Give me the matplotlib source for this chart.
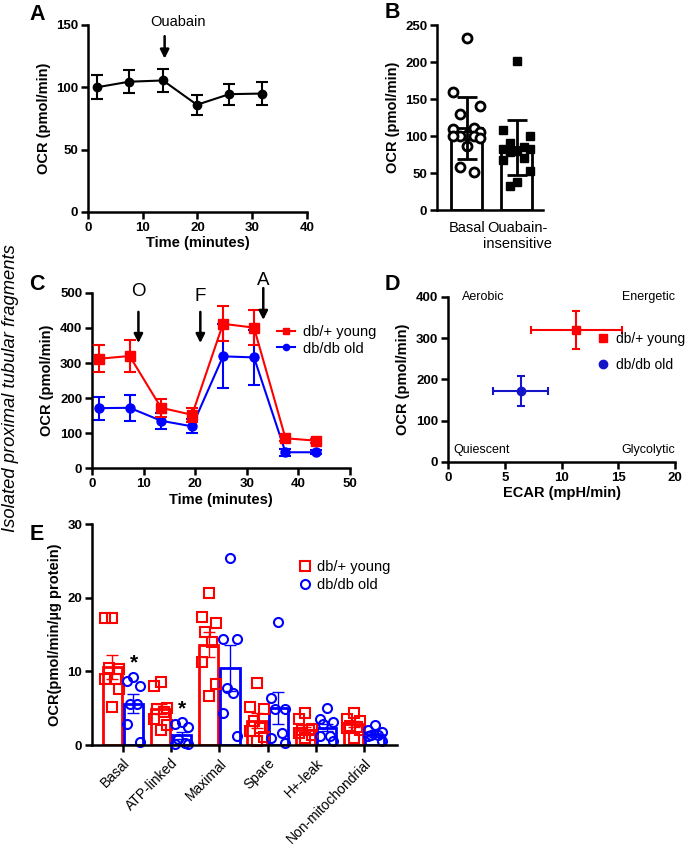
import matplotlib
matplotlib.use('Agg')
import matplotlib.pyplot as plt
from matplotlib.lines import Line2D
import numpy as np

plt.rcParams['font.family'] = ['Liberation Sans', 'DejaVu Sans']

# ---------------- data ----------------
# Panel A
tA = [1.6, 7.5, 13.7, 19.9, 25.8, 31.7]
ocrA = [100, 104.5, 105.5, 86, 94.5, 95]
errA = [9.5, 9, 9, 8, 8.5, 9]

# Panel B
catB = ['Basal', 'Ouabain-\ninsensitive']
meanB = [111, 85]
sdB = [42, 37]
ptsB_basal = [233, 160, 140, 130, 111, 110, 105, 102, 100, 100, 100, 98, 87, 58, 51]
ptsB_ouab = [201, 108, 100, 90, 85, 83, 82, 80, 78, 70, 68, 53, 38, 33]

# Panel C
tC = [1.3, 7.3, 13.4, 19.4, 25.4, 31.4, 37.5, 43.5]
young_C = [312, 320, 172, 152, 412, 401, 85, 78]
young_Cerr = [38, 45, 25, 20, 50, 51, 8, 6]
old_C = [171, 172, 135, 119, 319, 316, 45, 45]
old_Cerr = [33, 37, 23, 20, 91, 79, 10, 6]
injections = ['O', 'F', 'A']
inj_t = [9.0, 21.0, 33.2]

# Panel D
ecar = [11.3, 6.4]
ecar_err = [4.0, 2.4]
ocrD = [320, 172]
ocrD_err = [46, 37]

# Panel E
catE = ['Basal', 'ATP-linked', 'Maximal', 'Spare', 'H+-leak', 'Non-mitochondrial']
young_E = [10.6, 4.9, 13.6, 3.3, 2.1, 2.8]
young_Esem = [1.6, 0.7, 1.7, 1.0, 0.4, 0.4]
old_E = [5.6, 1.3, 10.5, 5.0, 2.35, 1.4]
old_Esem = [1.3, 0.5, 3.1, 2.2, 0.5, 0.3]
young_Epts = [
    [17.3, 17.3, 10.3, 10.5, 9.0, 9.0, 7.6, 5.1],
    [8.5, 8.0, 5.0, 4.9, 4.5, 3.6, 2.7, 2.1],
    [20.6, 17.4, 16.5, 15.3, 14.0, 11.3, 8.3, 6.7],
    [8.4, 5.2, 4.9, 3.3, 2.3, 1.9, 1.1, 0.5],
    [4.3, 3.5, 2.2, 2.1, 2.0, 1.6, 1.3, 0.9],
    [4.3, 3.5, 3.3, 2.6, 2.5, 2.3, 2.1, 1.0],
]
old_Epts = [
    [9.3, 8.7, 8.0, 5.6, 5.6, 2.8, 0.4],
    [3.1, 2.9, 2.4, 0.8, 0.3, 0.1, 0.2],
    [25.4, 14.4, 14.4, 7.8, 7.0, 4.4, 1.2],
    [16.7, 6.4, 4.9, 4.9, 1.6, 0.9, 0.3],
    [5.0, 3.5, 3.1, 2.9, 1.2, 1.2, 0.5],
    [2.7, 2.1, 1.8, 1.4, 1.3, 1.2, 0.5],
]
star_y = [11.1, 4.9]

RED = '#ff0000'
BLUE = '#0000ff'
DBLUE = '#1414c8'

TICK = 9.5
LAB = 10.5

fig = plt.figure(figsize=(6.9, 8.5), dpi=100)


def style(ax, lab=TICK):
    for s in ['top', 'right']:
        ax.spines[s].set_visible(False)
    for s in ['left', 'bottom']:
        ax.spines[s].set_linewidth(1.8)
    ax.tick_params(width=1.8, length=5, labelsize=lab, pad=2)


def boldticks(ax, x=True, y=True):
    labs = []
    if x:
        labs += ax.get_xticklabels()
    if y:
        labs += ax.get_yticklabels()
    for t in labs:
        t.set_fontweight('bold')


def offsets(n, w):
    pat = [0, -1, 1, -0.5, 0.5, -1, 1, 0, -0.5, 0.5, -1, 1, 0, -0.5, 0.5]
    return np.array([pat[i % len(pat)] for i in range(n)]) * w

arrow_kw = dict(arrowstyle='-|>', lw=1.8, color='k', mutation_scale=13, shrinkA=0, shrinkB=0)

# ---------------- Panel A ----------------
axA = fig.add_axes([0.1275, 0.7506, 0.3174, 0.22])
axA.errorbar(tA, ocrA, yerr=errA, color='k', marker='o', ms=6, lw=1.5,
             capsize=4, elinewidth=1.5, capthick=1.5, clip_on=False)
axA.set_xlim(0, 40)
axA.set_ylim(0, 150)
axA.set_xticks([0, 10, 20, 30, 40])
axA.set_yticks([0, 50, 100, 150])
style(axA)
boldticks(axA)
axA.set_xlabel('Time (minutes)', fontweight='bold', fontsize=LAB, labelpad=2)
axA.set_ylabel('OCR (pmol/min)', fontweight='bold', fontsize=LAB, labelpad=4)
axA.annotate('', xy=(14, 123), xytext=(14, 141), arrowprops=arrow_kw, annotation_clip=False)
axA.text(11.4, 152, 'Ouabain', fontsize=10.5, ha='left', va='center', clip_on=False)

# ---------------- Panel B ----------------
axB = fig.add_axes([0.6333, 0.7529, 0.1536, 0.2176])
xB = np.arange(len(catB))
axB.bar(xB, meanB, width=0.62, color='white', edgecolor='k', lw=2, zorder=1)
ob = offsets(len(ptsB_basal), 0.27)
axB.plot(xB[0] + ob, ptsB_basal, 'o', mfc='white', mec='k', mew=2, ms=6.5, zorder=2, clip_on=False)
oo = offsets(len(ptsB_ouab), 0.27)
axB.plot(xB[1] + oo, ptsB_ouab, 's', mfc='k', mec='k', ms=6, zorder=2, clip_on=False)
axB.errorbar(xB, meanB, yerr=sdB, fmt='none', ecolor='k', elinewidth=2, capsize=7, capthick=2, zorder=3)
axB.set_xlim(-0.6, 1.52)
axB.set_ylim(0, 250)
axB.set_yticks([0, 50, 100, 150, 200, 250])
axB.set_xticks(xB)
axB.set_xticklabels(catB)
style(axB)
axB.tick_params(axis='x', length=0, labelsize=10.5, pad=8)
boldticks(axB, x=False)
axB.set_ylabel('OCR (pmol/min)', fontweight='bold', fontsize=LAB, labelpad=4)

# ---------------- Panel C ----------------
axC = fig.add_axes([0.1333, 0.4494, 0.3739, 0.2059])
axC.errorbar(tC, young_C, yerr=young_Cerr, color=RED, marker='s', ms=6.5, lw=1.5,
             capsize=4, elinewidth=1.5, capthick=1.5, zorder=3, clip_on=False)
axC.errorbar(tC, old_C, yerr=old_Cerr, color=BLUE, marker='o', ms=6.5, lw=1.5,
             capsize=4, elinewidth=1.5, capthick=1.5, zorder=2, clip_on=False)
axC.set_xlim(0, 50)
axC.set_ylim(0, 500)
axC.set_xticks([0, 10, 20, 30, 40, 50])
axC.set_yticks([0, 100, 200, 300, 400, 500])
style(axC)
boldticks(axC)
axC.set_xlabel('Time (minutes)', fontweight='bold', fontsize=LAB, labelpad=2)
axC.set_ylabel('OCR (pmol/min)', fontweight='bold', fontsize=LAB, labelpad=4)
arr_top = [446, 446, 514]
arr_tip = [357, 357, 423]
lab_y = [503, 489, 537]
for name, t, a0, a1, ly in zip(injections, inj_t, arr_top, arr_tip, lab_y):
    axC.annotate('', xy=(t, a1), xytext=(t, a0), arrowprops=arrow_kw, annotation_clip=False)
    axC.text(t, ly, name, fontsize=13.5, ha='center', va='center', clip_on=False)
hC = [Line2D([], [], color=RED, marker='s', ms=4.5, lw=1.5),
      Line2D([], [], color=BLUE, marker='o', ms=4.5, lw=1.5)]
axC.legend(hC, ['db/+ young', 'db/db old'], loc='center left', bbox_to_anchor=(0.717, 0.731),
           frameon=False, fontsize=10.5, handlelength=1.25, handletextpad=0.55,
           borderpad=0, borderaxespad=0, labelspacing=0.2)

# ---------------- Panel D ----------------
axD = fig.add_axes([0.6493, 0.4565, 0.329, 0.1941])
axD.errorbar(ecar[0], ocrD[0], xerr=ecar_err[0], yerr=ocrD_err[0], color=RED, marker='s', ms=6,
             lw=1.5, capsize=3, elinewidth=1.5, capthick=1.5)
axD.errorbar(ecar[1], ocrD[1], xerr=ecar_err[1], yerr=ocrD_err[1], color=DBLUE, marker='o', ms=6,
             lw=1.5, capsize=3, elinewidth=1.5, capthick=1.5)
axD.set_xlim(0, 20)
axD.set_ylim(0, 400)
axD.set_xticks([0, 5, 10, 15, 20])
axD.set_yticks([0, 100, 200, 300, 400])
style(axD)
boldticks(axD)
axD.set_xlabel('ECAR (mpH/min)', fontweight='bold', fontsize=LAB, labelpad=2)
axD.set_ylabel('OCR (pmol/min)', fontweight='bold', fontsize=LAB, labelpad=4)
axD.text(1.2, 400, 'Aerobic', fontsize=9, ha='left', va='center', clip_on=False)
axD.text(20, 400, 'Energetic', fontsize=9, ha='right', va='center', clip_on=False)
axD.text(0.45, 30, 'Quiescent', fontsize=9, ha='left', va='center', clip_on=False)
axD.text(20, 30, 'Glycolytic', fontsize=9, ha='right', va='center', clip_on=False)
hD = [Line2D([], [], color=RED, marker='s', ms=6, lw=0),
      Line2D([], [], color=DBLUE, marker='o', ms=6, lw=0)]
axD.legend(hD, ['db/+ young', 'db/db old'], loc='center left', bbox_to_anchor=(0.65, 0.667),
           frameon=False, fontsize=10, handlelength=1.0, handletextpad=0.5,
           borderpad=0, borderaxespad=0, labelspacing=0.9)

# ---------------- Panel E ----------------
axE = fig.add_axes([0.1333, 0.1235, 0.442, 0.26])
xE = np.arange(len(catE))
dx = 0.22
bw = 0.40
axE.bar(xE - dx, young_E, width=bw, color='white', edgecolor=RED, lw=2, zorder=1)
axE.bar(xE + dx, old_E, width=bw, color='white', edgecolor=BLUE, lw=2, zorder=1)
for i in range(len(catE)):
    oy = offsets(len(young_Epts[i]), 0.14)
    axE.plot(xE[i] - dx + oy, young_Epts[i], 's', mfc='none', mec=RED, mew=1.5, ms=6.5,
             zorder=2, clip_on=False)
    oo = offsets(len(old_Epts[i]), 0.14)
    axE.plot(xE[i] + dx + oo, old_Epts[i], 'o', mfc='none', mec=BLUE, mew=1.5, ms=6.5,
             zorder=2, clip_on=False)
axE.errorbar(xE - dx, young_E, yerr=young_Esem, fmt='none', ecolor=RED, elinewidth=1,
             capsize=4, capthick=1, zorder=3)
axE.errorbar(xE + dx, old_E, yerr=old_Esem, fmt='none', ecolor=BLUE, elinewidth=1,
             capsize=4, capthick=1, zorder=3)
for i, sy in enumerate(star_y):
    axE.text(xE[i] + dx, sy, '*', fontsize=15, fontweight='bold', ha='center', va='center')
axE.set_xlim(-0.64, 5.68)
axE.set_ylim(0, 30)
axE.set_yticks([0, 10, 20, 30])
axE.set_xticks(xE)
axE.set_xticklabels(catE, rotation=45, ha='right', rotation_mode='anchor')
style(axE)
axE.tick_params(axis='x', labelsize=10, pad=3)
boldticks(axE, x=False)
axE.set_ylabel('OCR(pmol/min/µg protein)', fontweight='bold', fontsize=LAB, labelpad=4)
hE = [Line2D([], [], color=RED, marker='s', mfc='none', mew=1.5, ms=6.5, lw=0),
      Line2D([], [], color=BLUE, marker='o', mfc='none', mew=1.5, ms=6.5, lw=0)]
axE.legend(hE, ['db/+ young', 'db/db old'], loc='center left', bbox_to_anchor=(0.675, 0.765),
           frameon=False, fontsize=10.5, handlelength=1.0, handletextpad=0.3,
           borderpad=0, borderaxespad=0, labelspacing=0.25)

# ---------------- panel letters & side label ----------------
for lab, (px, py) in zip('ABCDE', [(37, 14), (392, 13), (37, 285), (392, 284), (37, 534)]):
    fig.text(px / 690, 1 - py / 850, lab, fontsize=15.5, fontweight='bold', ha='center', va='center')
fig.text(11 / 690, 1 - 388 / 850, 'Isolated proximal tubular fragments', rotation=90,
         fontsize=13.2, style='italic', ha='center', va='center')

fig.savefig('out.png', dpi=100)
